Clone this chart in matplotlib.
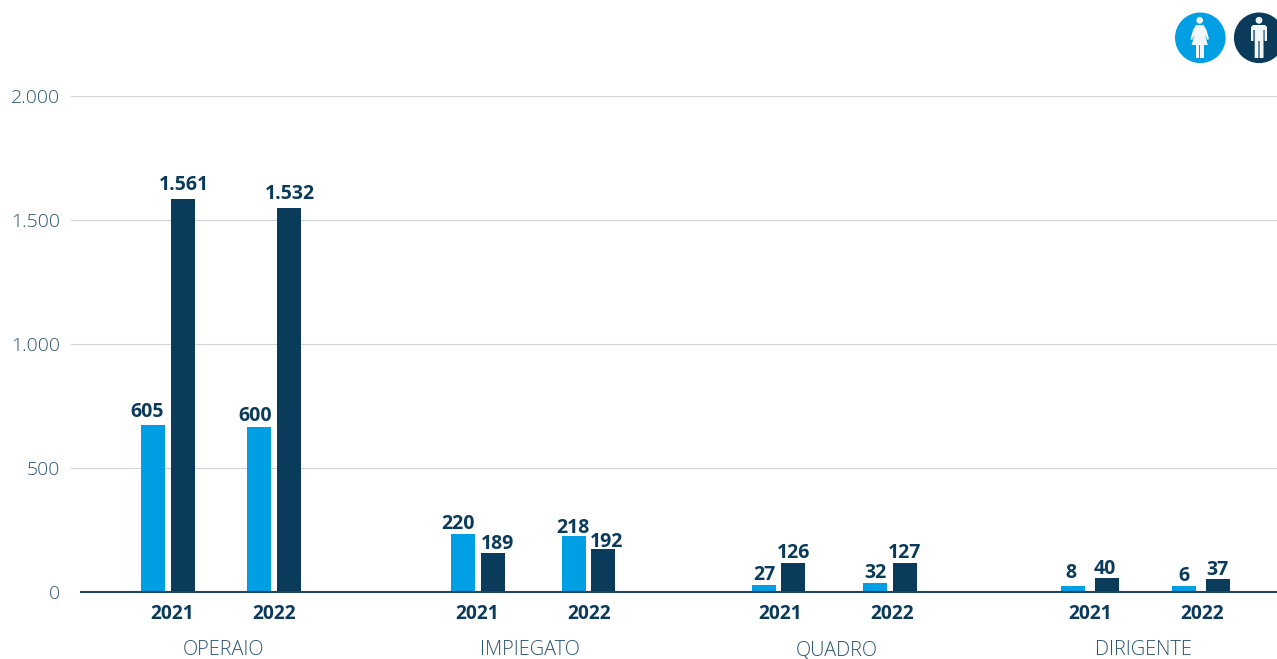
import matplotlib
matplotlib.use("Agg")
import matplotlib.pyplot as plt
from matplotlib.patches import Circle, Polygon, Rectangle

# ---- data ----
categories = ["OPERAIO", "IMPIEGATO", "QUADRO", "DIRIGENTE"]
years = ["2021", "2022"] * 4
y_ticks = [0, 500, 1000, 1500, 2000]
y_tick_labels = ["0", "500", "1.000", "1.500", "2.000"]

# printed labels
women_labels = ["605", "600", "220", "218", "27", "32", "8", "6"]
men_labels = ["1.561", "1.532", "189", "192", "126", "127", "40", "37"]

# drawn bar heights as read against the y axis (they differ from the printed labels)
women_heights = [673, 665, 233, 225, 28, 36, 24, 24]
men_heights = [1583, 1547, 157, 173, 117, 117, 56, 52]

# ---- layout (pixels of the 1277x659 canvas) ----
W, H = 1277, 659
AX_LEFT, AX_TOP, AX_BOTTOM = 71, 95.6, 591.6
women_x = [153, 259, 463, 574, 764, 875, 1073, 1184]
men_x = [183, 289, 493, 603, 793, 905, 1107, 1218]
year_x = [172, 274, 477, 589, 780, 892, 1090, 1202]
cat_x = [224, 530, 837, 1143]
BAR_W = 24
women_dx = [-6, -4, -5, -1, 0, 0, -2, 0]
men_dx = [1, 1, 4, 4, 1, 0, -2, -1]
women_gap = [8, 6, 5, 3, 5, 5, 8, 5]
men_gap = [9, 9, 4, 2, 5, 5, 4, 4]

BLUE, NAVY = "#009FE3", "#0B3B5B"
TICK_C, GRID_C = "#2C5472", "#D0D3DA"
FONT = "Open Sans"

plt.rcParams["font.family"] = [FONT, "DejaVu Sans"]
fig = plt.figure(figsize=(W / 100, H / 100), dpi=100, facecolor="white")
ax = fig.add_axes([AX_LEFT / W, 1 - AX_BOTTOM / H, (W - AX_LEFT) / W, (AX_BOTTOM - AX_TOP) / H])
ax.set_xlim(AX_LEFT, W)
ax.set_ylim(0, 2000)
for s in ax.spines.values():
    s.set_visible(False)
ax.set_axisbelow(True)

ax.bar(women_x, women_heights, width=BAR_W, color=BLUE, zorder=3)
ax.bar(men_x, men_heights, width=BAR_W, color=NAVY, zorder=3)

for xs, hs, labs, dxs, gaps in [
    (women_x, women_heights, women_labels, women_dx, women_gap),
    (men_x, men_heights, men_labels, men_dx, men_gap),
]:
    for x, h, lab, dx, g in zip(xs, hs, labs, dxs, gaps):
        ax.annotate(lab, (x, h), xytext=(dx * 0.72, g * 0.72), textcoords="offset points",
                    ha="center", va="baseline", fontsize=14, fontweight="bold",
                    color=NAVY, zorder=4)

# y axis
ax.set_yticks(y_ticks, y_tick_labels)
ax.tick_params(axis="y", length=0, pad=8, labelsize=14, labelcolor=TICK_C)
for lab in ax.get_yticklabels():
    lab.set_fontweight("light")
for v in y_ticks[1:]:
    ax.axhline(v, color=GRID_C, lw=0.8, zorder=1)
ax.plot([80, W], [0, 0], color="#1F4560", lw=1.5, zorder=5, clip_on=False, solid_capstyle="butt")

# x axis: years (major) and categories (minor)
ax.set_xticks(year_x, years)
ax.tick_params(axis="x", which="major", length=0, pad=9, labelsize=13.8, labelcolor=NAVY)
for lab in ax.get_xticklabels():
    lab.set_fontweight("bold")
ax.set_xticks(cat_x, categories, minor=True)
ax.tick_params(axis="x", which="minor", length=0, pad=35, labelsize=14.3, labelcolor=TICK_C)
for lab in ax.get_xticklabels(minor=True):
    lab.set_fontweight("light")

# pictograms in a pixel-coordinate overlay
ov = fig.add_axes([0, 0, 1, 1], facecolor="none")
ov.set_xlim(0, W)
ov.set_ylim(H, 0)
ov.axis("off")
WH = "#F2F7FA"
def person_common(cx):
    ov.add_patch(Circle((cx, 20.3), 3.4, color=WH, lw=0))

ov.add_patch(Circle((1200.3, 37.8), 25.3, color=BLUE, lw=0))
person_common(1199.7)
ov.add_patch(Polygon([(1196, 25), (1203.5, 25), (1206.5, 30), (1209, 39), (1207.5, 40), (1205, 35),
                      (1207.8, 45), (1191.6, 45), (1194.5, 35), (1192, 40), (1190.5, 39), (1193, 30)],
                     closed=True, color=WH, lw=0))
ov.add_patch(Rectangle((1195.8, 45), 3.3, 13.2, color=WH, lw=0))
ov.add_patch(Rectangle((1200.2, 45), 3.3, 13.2, color=WH, lw=0))

ov.add_patch(Circle((1259.2, 37.8), 25.3, color=NAVY, lw=0))
person_common(1259)
ov.add_patch(Polygon([(1253, 25), (1265, 25), (1267, 27), (1267, 41), (1264.6, 41), (1264.6, 30),
                      (1263.5, 30), (1263.5, 58), (1259.6, 58), (1259.6, 41), (1258.4, 41), (1258.4, 58),
                      (1254.7, 58), (1254.7, 30), (1253.4, 30), (1253.4, 41), (1251, 41), (1251, 27)],
                     closed=True, color=WH, lw=0))

fig.savefig("out.png", dpi=100, facecolor="white")
